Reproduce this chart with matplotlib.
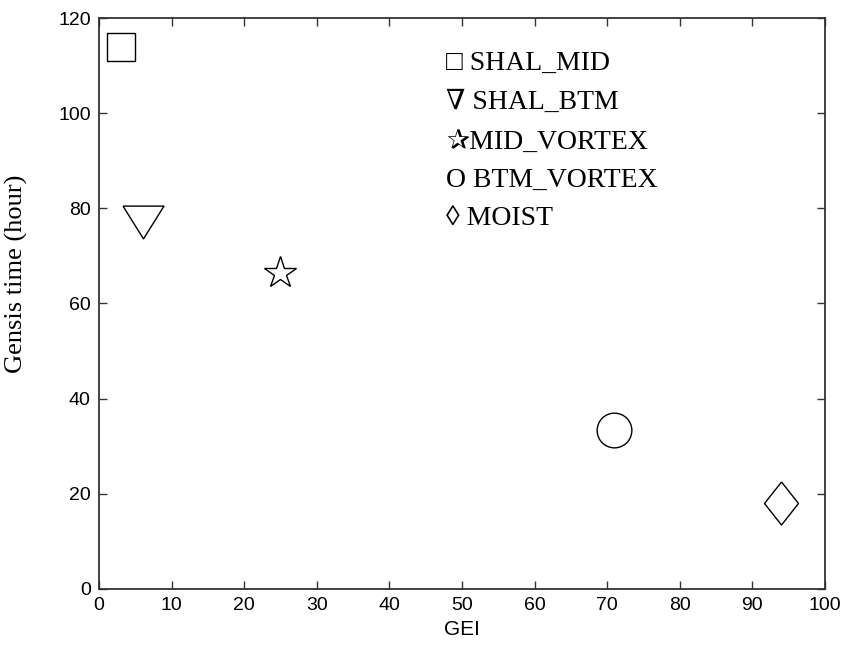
"""
Genesis time vs GEI for the five sensitivity experiments.
"""
import matplotlib
matplotlib.use('Agg')
import matplotlib.pyplot as plt

# experiment values (GEI, genesis time in hours)
names = ['SHAL_MID', 'SHAL_BTM', 'MID_VORTEX', 'BTM_VORTEX', 'MOIST']
gei = [3, 6, 25, 71, 94]
gen_time = [114, 77.2, 66.4, 33.3, 18.1]

# legend-like annotation lines
label_txt = ['\u25a1 SHAL_MID', '\u2207 SHAL_BTM', '\u2730MID_VORTEX',
             'O BTM_VORTEX', '\u25ca MOIST']
label_x = 47.8
label_y = [109.0, 100.8, 92.6, 84.5, 76.4]

# marker shapes, one per experiment (closed outlines)
tri = [(-1, 0.8), (1, 0.8), (0, -0.8), (-1, 0.8)]
thin_diamond = [(0, 1), (0.79, 0), (0, -1), (-0.79, 0), (0, 1)]
markers = ['s', tri, '*', 'o', thin_diamond]
msizes = [20, 29.5, 24, 25, 31]

tick_font = ['Liberation Sans', 'DejaVu Sans']
serif_font = ['Liberation Serif', 'DejaVu Serif', 'DejaVu Sans']

fig = plt.figure(figsize=(8.46, 6.58), dpi=100)
ax = fig.add_axes([0.117, 0.105, 0.858, 0.8676])

for x, y, m, s in zip(gei, gen_time, markers, msizes):
    ax.plot(x, y, linestyle='none', marker=m, markersize=s,
            markerfacecolor='none', markeredgecolor='black',
            markeredgewidth=1.0)

for t, y in zip(label_txt, label_y):
    ax.text(label_x, y, t, fontsize=20, family=serif_font, va='baseline',
            ha='left', color='black')

ax.set_xlim(0, 100)
ax.set_ylim(0, 120)
ax.set_xticks(range(0, 101, 10))
ax.set_yticks(range(0, 121, 20))

for sp in ax.spines.values():
    sp.set_linewidth(1.3)
    sp.set_color('#333333')
ax.tick_params(direction='in', length=5.5, width=1.0, color='#333333',
               top=True, right=True, pad=6, labelsize=14)
for lab in ax.get_xticklabels() + ax.get_yticklabels():
    lab.set_family(tick_font)

ax.set_xlabel('GEI', fontsize=15, family=tick_font, labelpad=4)
ax.set_ylabel('Gensis time (hour)', fontsize=19, family=serif_font)
ax.yaxis.set_label_coords(-0.098, 0.552)

fig.savefig('out.png', dpi=100)
